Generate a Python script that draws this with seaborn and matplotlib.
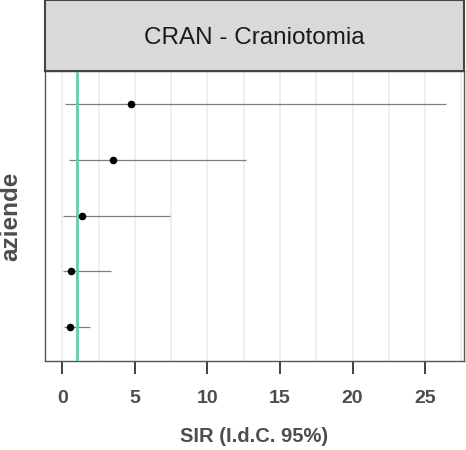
import matplotlib
matplotlib.use("Agg")
import matplotlib.pyplot as plt
import seaborn as sns
import pandas as pd
import numpy as np

# Data
aziende = ["A1", "A2", "A3", "A4", "A5"]
sir = [4.72, 3.48, 1.34, 0.62, 0.52]
ci_low = [0.17, 0.45, 0.07, 0.03, 0.10]
ci_high = [26.45, 12.66, 7.41, 3.38, 1.90]
ref_value = 1.0
xticks = [0, 5, 10, 15, 20, 25]
title = "CRAN - Craniotomia"

df = pd.DataFrame({"azienda": aziende, "sir": sir, "lo": ci_low, "hi": ci_high})
df["pos"] = np.arange(len(df))

sns.set_theme(style="white")
plt.rcParams["font.family"] = ["Liberation Sans", "DejaVu Sans"]

W, H = 466, 450
fig = plt.figure(figsize=(W / 100, H / 100), dpi=100)
ax = fig.add_axes([44.5 / W, 89.5 / H, 419 / W, 289.5 / H])

# grid
for g in np.arange(0, 27.6, 2.5):
    ax.axvline(g, color="#ebebeb", lw=1.1, zorder=0)

ax.hlines(df["pos"], df["lo"], df["hi"], color="#7f7f7f", lw=0.9, zorder=2)
ax.axvline(ref_value, color="#66CDAA", lw=2, zorder=3)
sns.scatterplot(data=df, x="sir", y="pos", color="black", s=30, edgecolor="black",
                linewidth=0, ax=ax, zorder=4, legend=False)

ax.set_xlim(-1.23, 27.65)
ax.set_ylim(len(df) - 1 + 0.6, -0.6)
ax.set_xticks(xticks)
ax.set_xticklabels([str(t) for t in xticks], fontsize=14, fontweight="bold", color="#4d4d4d")
ax.set_yticks([])
ax.tick_params(axis="x", length=9.5, width=1.3, color="#333333", pad=12, bottom=True)
for s in ax.spines.values():
    s.set_color("#555555")
    s.set_linewidth(1.0)
ax.set_xlabel("SIR (I.d.C. 95%)", fontsize=14.5, fontweight="bold", color="#4d4d4d")
ax.set_ylabel("aziende", fontsize=17.5, fontweight="bold", color="#4d4d4d")
ax.xaxis.set_label_coords(0.5, -(436 - 360.5) / 289.5)
ax.xaxis.label.set_va("center")
ax.yaxis.set_label_coords(-(44.5 - 11) / 419, (360.5 - 216) / 289.5)
ax.yaxis.label.set_va("center")

# facet strip
sax = fig.add_axes([44.5 / W, 379 / H, 419 / W, 71 / H])
sax.set_xlim(0, 1); sax.set_ylim(0, 1)
sax.set_xticks([]); sax.set_yticks([])
sax.set_facecolor("#d9d9d9")
for s in sax.spines.values():
    s.set_color("#444444")
    s.set_linewidth(1.5)
sax.text(0.5, 0.46, title, ha="center", va="center", fontsize=17.5, color="#1a1a1a")

fig.savefig("out.png", dpi=100)
